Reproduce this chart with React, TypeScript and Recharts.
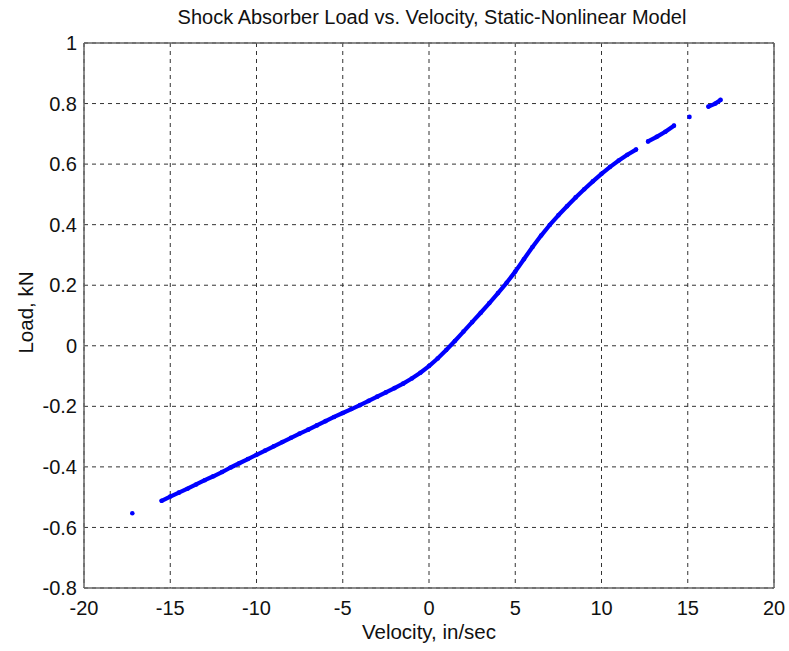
import {
  ScatterChart,
  Scatter,
  XAxis,
  YAxis,
  CartesianGrid,
  ReferenceLine,
  Label,
} from "recharts"

/* ---------------------------------
   Data
---------------------------------- */
const velocityTicks = [-20, -15, -10, -5, 0, 5, 10, 15, 20]
const loadTicks = [-0.8, -0.6, -0.4, -0.2, 0, 0.2, 0.4, 0.6, 0.8, 1]

// main, continuous band of samples
const mainVelocity = [
  -15.5, -15.0, -14.5, -14.0, -13.5, -13.0, -12.5, -12.0, -11.5, -11.0, -10.5,
  -10.0, -9.5, -9.0, -8.5, -8.0, -7.5, -7.0, -6.5, -6.0, -5.5, -5.0, -4.5, -4.0,
  -3.5, -3.0, -2.5, -2.0, -1.5, -1.0, -0.5, 0.0, 0.5, 1.0, 1.5, 2.0, 2.5, 3.0,
  3.5, 4.0, 4.5, 5.0, 5.5, 6.0, 6.5, 7.0, 7.5, 8.0, 8.5, 9.0, 9.5, 10.0, 10.5,
  11.0, 11.5, 12.0,
]
const mainLoad = [
  -0.512, -0.498, -0.485, -0.472, -0.458, -0.444, -0.431, -0.417, -0.402, -0.388,
  -0.374, -0.36, -0.346, -0.332, -0.318, -0.304, -0.29, -0.277, -0.263, -0.249,
  -0.235, -0.222, -0.209, -0.196, -0.182, -0.168, -0.154, -0.14, -0.125, -0.108,
  -0.089, -0.067, -0.042, -0.014, 0.016, 0.047, 0.078, 0.109, 0.141, 0.174,
  0.208, 0.245, 0.286, 0.326, 0.364, 0.399, 0.431, 0.461, 0.49, 0.517, 0.543,
  0.568, 0.591, 0.612, 0.631, 0.648,
]

// short upper runs separated by gaps
const upperVelocity = [12.7, 13.2, 13.7, 14.2]
const upperLoad = [0.675, 0.69, 0.707, 0.727]

const topVelocity = [16.2, 16.6, 16.9]
const topLoad = [0.79, 0.8, 0.812]

// isolated samples
const loneVelocity = [-17.2, 15.1]
const loneLoad = [-0.553, 0.756]

const toPoints = (xs: number[], ys: number[]) =>
  xs.map((x, i) => ({ x, y: ys[i] }))

const BLUE = "#0000ff"
const FONT = "'Liberation Sans', Arial, Helvetica, sans-serif"

function Dot(props: any) {
  const { cx, cy } = props
  return <circle cx={cx} cy={cy} r={2.3} fill={BLUE} />
}

function XTitle({ viewBox }: any) {
  const cx = viewBox.x + viewBox.width / 2
  return (
    <text x={cx} y={639} textAnchor="middle" fontSize={20.5} fontFamily={FONT} fill="#111">
      Velocity, in/sec
    </text>
  )
}

function YTitle({ viewBox }: any) {
  const cx = 25
  const cy = viewBox.y + viewBox.height / 2 - 3
  return (
    <text
      x={cx}
      y={cy}
      transform={`rotate(-90 ${cx} ${cy})`}
      textAnchor="middle"
      dominantBaseline="central"
      fontSize={20.5}
      fontFamily={FONT}
      fill="#111"
    >
      Load, kN
    </text>
  )
}

const lineStyle = {
  stroke: BLUE,
  strokeWidth: 4.2,
  strokeLinecap: "round",
  strokeLinejoin: "round",
}

export default function App() {
  return (
    <div style={{ position: "absolute", left: 0, top: 0, background: "#fff" }}>
      <ScatterChart
        width={789}
        height={651}
        margin={{ top: 43, right: 15, bottom: 33, left: 0 }}
      >
        <text x={432} y={24} textAnchor="middle" fontSize={20} fontFamily={FONT} fill="#111">
          Shock Absorber Load vs. Velocity, Static-Nonlinear Model
        </text>
        <CartesianGrid stroke="#333" strokeDasharray="4 4" />
        <XAxis
          type="number"
          dataKey="x"
          domain={[-20, 20]}
          ticks={velocityTicks}
          height={30}
          tickLine={false}
          tickMargin={7}
          stroke="#666"
          strokeWidth={1.5}
          tick={{ fill: "#111", fontSize: 20, fontFamily: FONT }}
          allowDataOverflow
        >
          <Label content={<XTitle />} />
        </XAxis>
        <YAxis
          type="number"
          dataKey="y"
          domain={[-0.8, 1]}
          ticks={loadTicks}
          width={84}
          tickLine={false}
          tickMargin={1}
          stroke="#666"
          strokeWidth={1.5}
          tick={{ fill: "#111", fontSize: 20, fontFamily: FONT }}
          allowDataOverflow
        >
          <Label content={<YTitle />} />
        </YAxis>
        <ReferenceLine y={1} stroke="#666" strokeWidth={1.5} />
        <ReferenceLine x={20} stroke="#666" strokeWidth={1.5} />
        <Scatter
          data={toPoints(mainVelocity, mainLoad)}
          line={lineStyle}
          shape={<Dot />}
          isAnimationActive={false}
        />
        <Scatter
          data={toPoints(upperVelocity, upperLoad)}
          line={lineStyle}
          shape={<Dot />}
          isAnimationActive={false}
        />
        <Scatter
          data={toPoints(topVelocity, topLoad)}
          line={lineStyle}
          shape={<Dot />}
          isAnimationActive={false}
        />
        <Scatter
          data={toPoints(loneVelocity, loneLoad)}
          shape={<Dot />}
          isAnimationActive={false}
        />
      </ScatterChart>
    </div>
  )
}
